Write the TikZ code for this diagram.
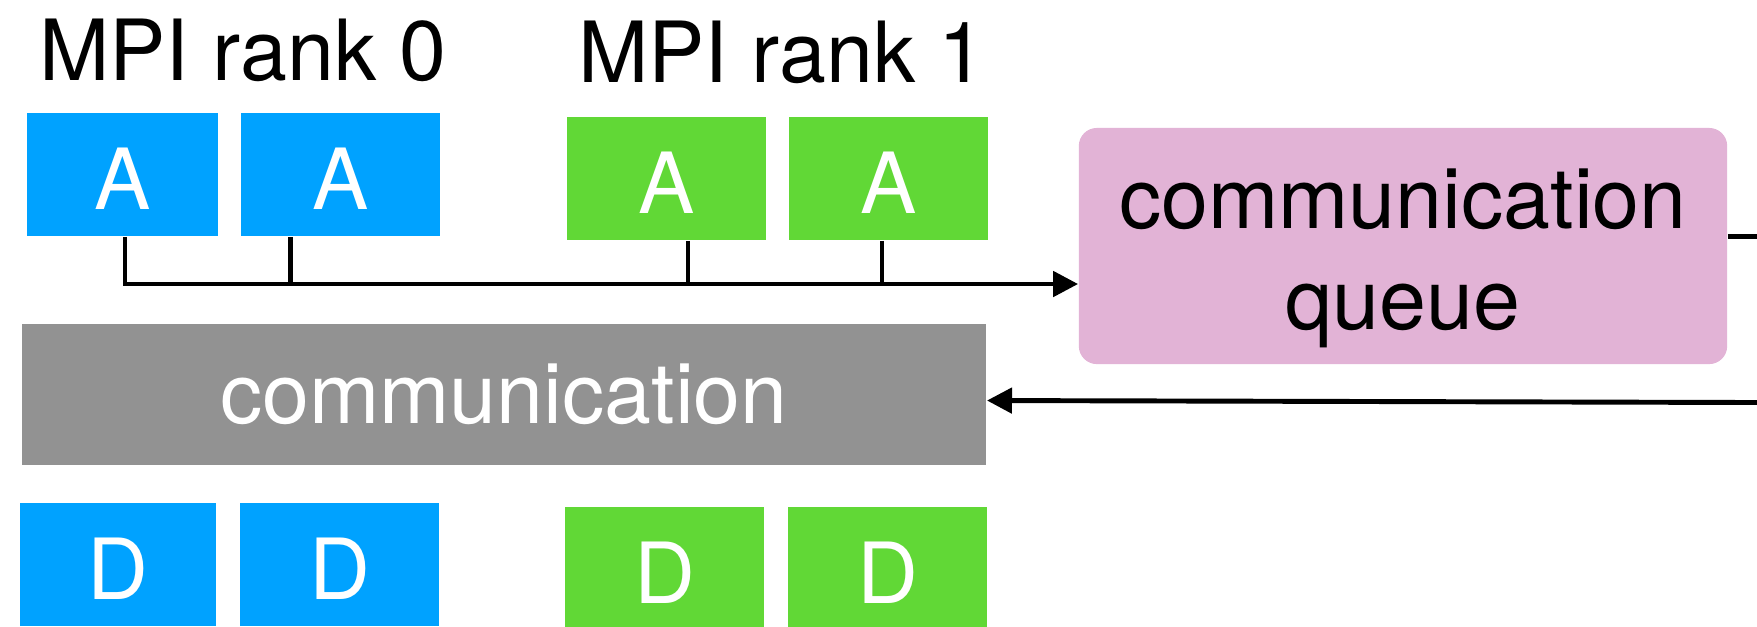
\documentclass[tikz,border=0pt]{standalone}
\usepackage{fontspec}
\setmainfont{TeX Gyre Heros}
\usetikzlibrary{arrows.meta, calc}
\definecolor{rankblue}{HTML}{00A2FF}
\definecolor{rankgreen}{HTML}{61D836}
\definecolor{queuepink}{HTML}{E2B3D6}
\definecolor{commgray}{HTML}{929292}
\tikzset{
  task/.style={rectangle, draw=none, minimum height=1.23cm,
    inner sep=0pt, text=white, text height=20pt,
    font=\fontsize{24}{28.7}\selectfont},
  bluetask/.style={task, fill=rankblue, minimum width=1.99cm},
  greentask/.style={task, fill=rankgreen, minimum width=1.99cm},
  queuebox/.style={rectangle, rounded corners=0.18cm, fill=queuepink,
    minimum width=6.48cm, minimum height=2.36cm},
  commbox/.style={rectangle, fill=commgray, text=white,
    minimum width=9.64cm, minimum height=1.41cm,
    font=\fontsize{24}{28.7}\selectfont},
  title/.style={font=\fontsize{24}{28.7}\selectfont, inner sep=0pt},
  flow/.style={line width=1.4pt, -{Triangle[length=0.25cm, width=0.25cm]}},
  stub/.style={line width=1.2pt}
}
\begin{document}
\begin{tikzpicture}[x=0.01cm, y=-0.01cm]
\useasboundingbox (0,0) rectangle (1757,626);
\clip (0,0) rectangle (1757,626);

%% -- Rank titles ------------------------------------------
\node[title, anchor=base] (rank0) at (243,80) {MPI rank 0};
\node[title, anchor=base] (rank1) at (782,82) {MPI rank 1};

%% -- Tasks A -----------------------------------------------
\node[bluetask, minimum width=1.91cm] (rank0a1) at (122.5,174.5) {A};
\node[bluetask]  (rank0a2) at (340.5,174.5) {A};
\node[greentask] (rank1a1) at (666.5,178.5) {A};
\node[greentask] (rank1a2) at (888.5,178.5) {A};

%% -- Queue and communication -------------------------------
\node[queuebox] (queue) at (1403,246) {};
\node[title, align=center] (queuetext) at ([yshift=-0.12cm]queue.center)
  {communication\\queue};
\node[commbox] (comm) at (504,394.5) {communication};

%% -- Tasks D -----------------------------------------------
\node[bluetask, minimum width=1.96cm] (rank0d1) at (118,564.5) {D};
\node[bluetask]  (rank0d2) at (339.5,564.5) {D};
\node[greentask] (rank1d1) at (664.5,568.5) {D};
\node[greentask] (rank1d2) at (887.5,568.5) {D};

%% -- Connections -------------------------------------------
\coordinate (bus)   at (0,284);
\coordinate (qout)  at (1757,236.5);
\coordinate (qback) at (1757,402.5);

% tasks A -> communication queue
\draw[flow] ([xshift=0.025cm]rank0a1.south) |- (queue.west |- bus);
\draw[stub] ([xshift=-0.5cm]rank0a2.south) -- ([xshift=-0.5cm]rank0a2.south |- bus);
\draw[stub] ([xshift=0.215cm]rank1a1.south) -- ([xshift=0.215cm]rank1a1.south |- bus);
\draw[stub] ([xshift=-0.065cm]rank1a2.south) -- ([xshift=-0.065cm]rank1a2.south |- bus);

% queue out and back to communication
\draw[stub, line width=1.4pt] (queue.east |- qout) -- (qout);
\draw[flow] (qback) -- ([yshift=-0.06cm]comm.east);

\end{tikzpicture}
\end{document}
